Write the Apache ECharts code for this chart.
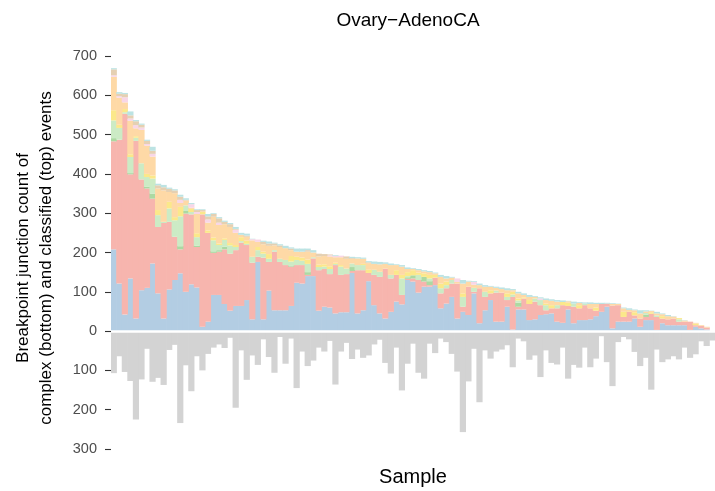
<!DOCTYPE html>
<html>
<head>
<meta charset="utf-8">
<script src="https://cdn.jsdelivr.net/npm/echarts@6/dist/echarts.min.js"></script>
<style>
  html, body { margin: 0; padding: 0; background: #ffffff; }
  #chart { width: 715px; height: 491px; }
</style>
</head>
<body>
<div id="chart"></div>
<script>
// Breakpoint junction counts per sample, sorted by classified total.
// Classified event types are stacked upward; complex events hang below zero.
const blue    = [208,121,42,134,32,104,110,172,96,32,106,130,147,100,119,111,11,24,92,92,69,52,64,64,79,30,176,
                 30,103,53,53,53,64,123,121,140,140,52,62,60,45,48,48,148,45,53,127,66,
                 45,32,49,75,68,130,126,98,113,113,117,58,70,87,32,49,41,96,20,53,79,
                 24,24,62,4,55,55,28,30,41,43,45,24,21,55,20,28,28,30,38,49,62,
                 7,24,24,24,32,11,28,28,3,20,15,15,15,15,3,11,7,4,0];
const salmon  = [275,366,511,265,452,282,253,165,169,243,172,110,61,199,178,103,286,226,107,110,139,145,142,161,140,144,13,
                 157,73,149,123,115,100,45,47,3,45,103,96,85,123,95,97,5,110,102,21,77,
                 93,127,85,68,24,3,8,32,13,4,19,38,39,34,89,13,72,4,89,34,17,
                 74,74,17,83,7,28,41,45,25,10,13,34,45,9,42,30,38,28,14,20,8,
                 58,42,12,25,8,21,8,16,33,12,15,17,9,9,21,4,6,5,0];
const dgreen  = [8,0,0,3,0,0,4,13,0,0,0,0,8,8,0,3,0,0,4,4,7,0,0,0,0,0,0,
                 0,0,0,0,0,3,0,0,7,0,0,0,0,0,0,0,10,0,0,0,0,
                 0,0,0,0,0,4,8,0,12,10,0,0,0,0,0,0,0,0,0,0,0,
                 0,0,0,0,10,0,0,0,0,0,0,0,0,0,0,0,0,0,0,0,0,
                 0,0,0,0,0,0,6,0,0,0,0,0,0,0,0,0,0,0,0];
const lgreen  = [45,30,4,41,8,41,25,38,30,3,34,42,76,13,6,22,0,0,28,13,17,21,8,4,3,15,17,
                 10,8,4,8,13,10,13,11,21,3,8,6,13,3,21,14,9,13,13,0,13,
                 13,0,9,0,42,3,0,13,0,7,0,13,8,9,0,25,0,10,0,13,0,
                 5,0,8,6,6,0,0,8,13,13,0,8,0,0,8,0,4,0,0,0,0,
                 0,0,0,0,0,0,4,0,4,0,0,0,6,0,0,0,0,0,0];
const yellow  = [26,8,8,7,4,0,8,8,13,0,17,8,24,0,8,10,6,6,7,4,4,6,5,10,8,0,8,
                 5,12,0,0,0,14,8,8,11,0,6,6,7,3,4,0,0,0,3,8,0,
                 0,0,0,12,9,10,13,6,9,9,7,12,9,0,0,9,0,0,0,0,8,
                 0,0,9,7,5,3,10,0,0,4,8,0,8,8,0,8,0,0,8,0,0,
                 0,0,13,0,8,0,0,4,0,6,0,0,3,0,0,4,0,0,0];
const peach   = [85,69,17,85,20,85,72,48,55,80,25,61,10,12,3,49,2,20,53,47,36,41,31,6,10,42,13,
                 19,21,12,30,30,15,13,15,20,12,21,21,25,14,20,25,12,17,13,17,15,
                 19,12,25,13,21,8,3,6,5,7,4,17,8,6,4,25,13,8,8,13,9,
                 7,9,8,4,13,6,8,4,0,9,11,9,0,4,0,6,0,11,9,0,0,
                 4,3,9,5,5,13,4,3,5,5,8,5,0,3,0,2,2,2,0];
const pink    = [4,4,13,6,8,6,4,7,0,0,0,0,8,0,9,5,0,8,0,6,0,0,8,0,0,3,6,
                 0,0,0,0,0,0,0,0,0,0,0,0,3,3,4,0,0,0,0,0,0,
                 0,0,0,0,0,0,0,0,0,0,0,0,0,0,9,0,0,7,0,0,0,
                 0,0,0,0,0,0,0,0,4,0,0,0,0,0,0,0,0,0,0,0,0,
                 0,0,0,0,0,0,0,0,0,0,0,0,0,0,0,0,0,0,0];
const tan     = [15,6,8,8,10,7,8,8,8,8,8,7,8,2,0,5,3,8,7,11,6,7,2,0,3,0,0,
                 6,6,5,4,0,4,0,0,4,0,7,5,2,0,0,6,2,0,0,2,0,
                 0,0,0,0,0,0,0,0,0,0,0,0,0,0,0,0,0,0,0,0,0,
                 0,0,0,0,0,0,0,0,0,0,0,0,0,0,0,0,0,0,0,0,0,
                 0,0,0,0,0,0,0,0,0,0,0,0,0,0,0,0,0,0,0];
const cyan    = [3,4,3,10,3,3,3,10,4,6,3,3,5,4,3,2,2,6,2,3,3,3,5,5,5,1,0,
                 3,5,2,3,6,3,8,8,4,6,0,0,0,2,0,0,3,3,3,3,6,
                 6,4,4,2,4,4,2,3,3,3,2,5,6,2,0,9,2,2,4,4,2,
                 3,4,5,3,4,4,5,2,3,4,4,4,4,1,5,2,3,4,3,3,2,
                 2,1,2,4,2,8,3,1,4,2,3,1,0,1,0,0,0,0,0];
const complexEvents = [107,64,104,127,225,123,45,129,119,137,48,35,234,87,153,64,100,58,42,34,43,17,195,49,124,62,86,
                 21,66,106,15,83,19,145,52,89,75,42,52,25,136,52,30,71,47,68,62,34,22,81,108,42,151,83,32,
                 106,121,32,56,19,28,58,103,257,128,45,181,49,70,
                 52,47,36,92,19,26,73,62,117,49,81,85,42,121,86,93,42,92,70,13,79,
                 140,28,15,21,53,89,68,149,47,79,72,64,72,42,68,59,26,38,24];

const samples = blue.map((_, i) => 'S' + (i + 1));
const yTicks = [-300, -200, -100, 0, 100, 200, 300, 400, 500, 600, 700];

const layers = [
  { name: 'blue',   data: blue,   color: '#b3cde3' },
  { name: 'salmon', data: salmon, color: '#f7b5ae' },
  { name: 'dgreen', data: dgreen, color: '#acd9a2' },
  { name: 'lgreen', data: lgreen, color: '#ccebc5' },
  { name: 'yellow', data: yellow, color: '#fbe88a' },
  { name: 'peach',  data: peach,  color: '#fed9a6' },
  { name: 'pink',   data: pink,   color: '#f8d6e7' },
  { name: 'tan',    data: tan,    color: '#e5d0b2' },
  { name: 'cyan',   data: cyan,   color: '#bce3e3' }
];

// bars are a touch wider than their band so neighbours overlap and leave no seams
const BAR_W = '112%';

const series = layers.map(l => ({
  name: l.name,
  type: 'bar',
  stack: 'all',
  data: l.data,
  barWidth: BAR_W,
  itemStyle: { color: l.color },
  silent: true
}));

series.push({
  name: 'complex',
  type: 'bar',
  stack: 'all',
  data: complexEvents.map(v => -v),
  barWidth: BAR_W,
  itemStyle: { color: '#d3d3d3' },
  silent: true,
  markLine: {
    silent: true,
    symbol: 'none',
    label: { show: false },
    lineStyle: { color: '#ffffff', width: 2.6, type: 'solid' },
    data: [{ yAxis: 0 }],
    z: 10
  }
});

const chart = echarts.init(document.getElementById('chart'), null, { renderer: 'canvas' });
chart.setOption({
  animation: false,
  backgroundColor: '#ffffff',
  grid: { left: 111, right: 0, top: 56, bottom: 42, containLabel: false },
  xAxis: {
    type: 'category',
    data: samples,
    boundaryGap: true,
    axisLine: { show: false },
    axisTick: { show: false },
    axisLabel: { show: false },
    splitLine: { show: false }
  },
  yAxis: {
    type: 'value',
    min: yTicks[0],
    max: yTicks[yTicks.length - 1],
    interval: 100,
    axisLine: { show: false },
    axisTick: { show: true, length: 6, lineStyle: { color: '#333333', width: 1.1 } },
    axisLabel: {
      margin: 14,
      color: '#4d4d4d',
      fontSize: 14.5,
      fontFamily: 'Liberation Sans',
      formatter: v => String(Math.abs(v))
    },
    splitLine: { show: false }
  },
  graphic: [
    { type: 'text', x: 408, y: 21, style: { text: 'Ovary\u2212AdenoCA', font: '19px "Liberation Sans"', fill: '#000', textAlign: 'center', textVerticalAlign: 'middle' } },
    { type: 'text', x: 413, y: 477, style: { text: 'Sample', font: '20px "Liberation Sans"', fill: '#000', textAlign: 'center', textVerticalAlign: 'middle' } },
    { type: 'text', x: 23, y: 258, rotation: Math.PI / 2, style: { text: 'Breakpoint junction count of', font: '17px "Liberation Sans"', fill: '#000', textAlign: 'center', textVerticalAlign: 'middle' } },
    { type: 'text', x: 46, y: 258, rotation: Math.PI / 2, style: { text: 'complex (bottom) and classified (top) events', font: '17px "Liberation Sans"', fill: '#000', textAlign: 'center', textVerticalAlign: 'middle' } }
  ],
  series: series
});
</script>
</body>
</html>
